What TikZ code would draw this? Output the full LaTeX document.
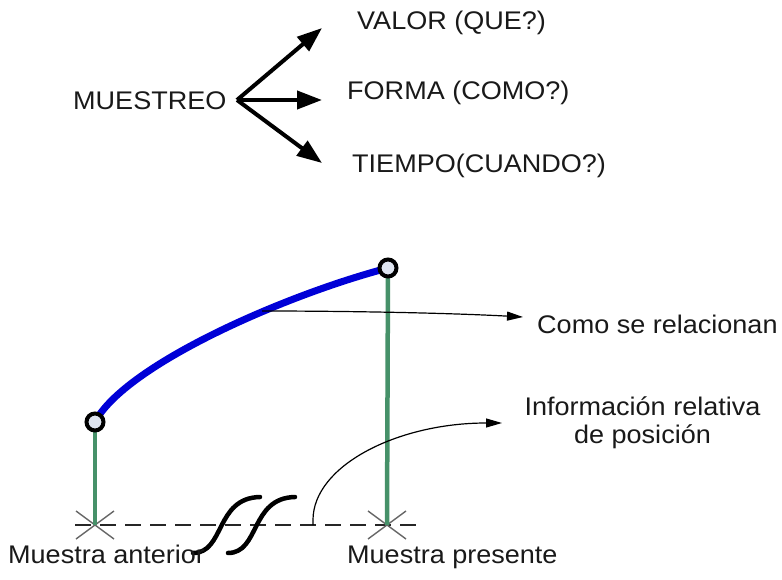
\documentclass[tikz,border=0pt]{standalone}
\usepackage{fontspec}
\setmainfont[FakeStretch=1.06]{Liberation Sans}
\usetikzlibrary{arrows.meta}
\definecolor{sgreen}{RGB}{70,145,105}
\definecolor{cblue}{RGB}{0,0,215}
\definecolor{cfill}{RGB}{222,228,240}
\definecolor{txtc}{RGB}{25,25,25}
\begin{document}
\begin{tikzpicture}[x=1pt,y=-1pt,
  txt/.style={font=\fontsize{25.5}{28}\selectfont, text=txtc, inner sep=0pt, anchor=base west},
  bigarrow/.style={line width=4pt, -{Triangle[length=25pt,width=18pt]}},
  thinarrow/.style={line width=1.2pt, -{Triangle[length=16pt,width=9pt]}},
  circ/.style={circle, draw=black, line width=4pt, fill=cfill, minimum size=17pt, inner sep=0pt},
  stem/.style={sgreen, line width=4.5pt},
  bluecurve/.style={cblue, line width=7pt},
  xmark/.style={draw=black!60, line width=1.4pt},
  dashline/.style={draw=black!85, line width=1.5pt, dash pattern=on 16pt off 9pt},
  brk/.style={draw=black, line width=4.5pt, line cap=round}]
\useasboundingbox (0,0) rectangle (782,580);

% top part
\node[txt] (mu) at (73,110) {MUESTREO};
\coordinate (o) at (237,100);
\coordinate (t1) at (322,28);
\coordinate (t2) at (322,100);
\coordinate (t3) at (322,163);
\draw[bigarrow] (o) -- (t1);
\draw[bigarrow] (o) -- (t2);
\draw[bigarrow] (o) -- (t3);
\node[txt] (valor) at (357,30) {VALOR (QUE?)};
\node[txt] (forma) at (347,100) {FORMA (COMO?)};
\node[txt] (tiempo) at (352,173) {TIEMPO(CUANDO?)};

% bottom part
\coordinate (p1) at (95,422);
\coordinate (p2) at (388,268);
\coordinate (x1) at (95,525);
\coordinate (x2) at (387,525);
\coordinate (d0) at (75,525);
\coordinate (d1) at (422,525);

\draw[dashline] (d0) -- (d1);
\draw[xmark] (x1) ++(-19,-14) -- ++(38,28);
\draw[xmark] (x1) ++(-19,14) -- ++(38,-28);
\draw[xmark] (x2) ++(-19,-14) -- ++(38,28);
\draw[xmark] (x2) ++(-19,14) -- ++(38,-28);

\draw[stem] (p1) -- (x1);
\draw[stem] (p2) -- (x2);
\draw[bluecurve] (p1) .. controls (125,365) and (285,295) .. (p2);
\node[circ] (c1) at (p1) {};
\node[circ] (c2) at (p2) {};

% break symbol
\draw[brk] (193,553) .. controls (225,553) and (215,498) .. (260,497);
\draw[brk] (228,553) .. controls (260,553) and (250,498) .. (295,497);

% arrows to labels
\coordinate (a1) at (262,311);
\coordinate (a1e) at (523,317);
\draw[thinarrow] (a1) .. controls (350,311) and (450,313) .. (a1e);
\coordinate (tk) at (313,525);
\coordinate (a2e) at (502,423);
\draw[thinarrow] (tk) -- (313,520) .. controls (313,466) and (397,423) .. (a2e);

\node[txt] (como) at (537,333) {Como se relacionan};
\node[txt, anchor=base] (info1) at (642.5,415) {Información relativa};
\node[txt, anchor=base] (info2) at (642.5,443) {de posición};
\node[txt] (mant) at (8,563) {Muestra anterior};
\node[txt] (mpre) at (347,563) {Muestra presente};
\end{tikzpicture}
\end{document}
